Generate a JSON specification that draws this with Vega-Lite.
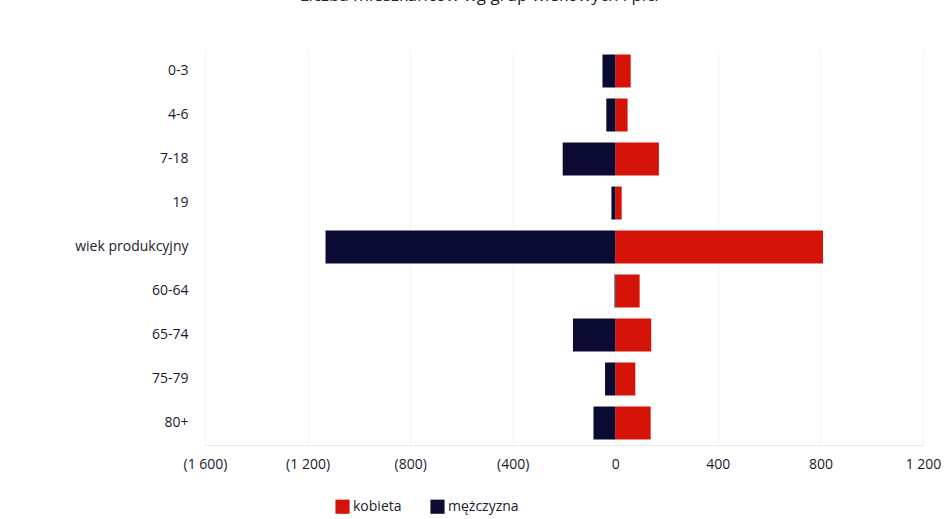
{
  "$schema": "https://vega.github.io/schema/vega-lite/v6.json",
  "autosize": {"type": "none"},
  "width": 718,
  "height": 396,
  "padding": {"left": 205, "top": 49, "right": 22, "bottom": 74},
  "background": "white",
  "title": {"text": "Liczba mieszkańców wg grup wiekowych i płci", "fontSize": 17, "font": "Open Sans", "fontWeight": "normal", "color": "#222", "offset": 44, "anchor": "start", "dx": 225},
  "data": {"values": [
    {"grupa": "0-3", "plec": "kobieta", "liczba": 60},
    {"grupa": "0-3", "plec": "mężczyzna", "liczba": -50},
    {"grupa": "4-6", "plec": "kobieta", "liczba": 48},
    {"grupa": "4-6", "plec": "mężczyzna", "liczba": -35},
    {"grupa": "7-18", "plec": "kobieta", "liczba": 170},
    {"grupa": "7-18", "plec": "mężczyzna", "liczba": -205},
    {"grupa": "19", "plec": "kobieta", "liczba": 25},
    {"grupa": "19", "plec": "mężczyzna", "liczba": -15},
    {"grupa": "wiek produkcyjny", "plec": "kobieta", "liczba": 810},
    {"grupa": "wiek produkcyjny", "plec": "mężczyzna", "liczba": -1130},
    {"grupa": "60-64", "plec": "kobieta", "liczba": 95},
    {"grupa": "60-64", "plec": "mężczyzna", "liczba": -3},
    {"grupa": "65-74", "plec": "kobieta", "liczba": 140},
    {"grupa": "65-74", "plec": "mężczyzna", "liczba": -165},
    {"grupa": "75-79", "plec": "kobieta", "liczba": 78},
    {"grupa": "75-79", "plec": "mężczyzna", "liczba": -40},
    {"grupa": "80+", "plec": "kobieta", "liczba": 138},
    {"grupa": "80+", "plec": "mężczyzna", "liczba": -85}
  ]},
  "mark": {"type": "bar"},
  "encoding": {
    "y": {
      "field": "grupa", "type": "nominal",
      "sort": ["0-3", "4-6", "7-18", "19", "wiek produkcyjny", "60-64", "65-74", "75-79", "80+"],
      "scale": {"paddingInner": 0.25, "paddingOuter": 0.125},
      "axis": {"title": null, "domain": false, "ticks": false, "labelPadding": 17, "labelFontSize": 14, "labelFont": "Open Sans", "labelColor": "#1a1a2e", "grid": false}
    },
    "x": {
      "field": "liczba", "type": "quantitative", "stack": null,
      "scale": {"domain": [-1600, 1200], "nice": false},
      "axis": {
        "title": null,
        "values": [-1600, -1200, -800, -400, 0, 400, 800, 1200],
        "labelExpr": "datum.value < 0 ? '(' + replace(format(-datum.value, ','), ',', ' ') + ')' : replace(format(datum.value, ','), ',', ' ')",
        "labelFontSize": 14, "labelFont": "Open Sans", "labelColor": "#1a1a2e",
        "labelPadding": 12, "ticks": false,
        "domain": true, "domainColor": "#e8e8e8",
        "grid": true, "gridColor": "#f5f5f5",
        "labelFlush": false
      }
    },
    "color": {
      "field": "plec", "type": "nominal",
      "scale": {"domain": ["kobieta", "mężczyzna"], "range": ["#d41208", "#0a0a33"]},
      "legend": {"title": null, "orient": "none", "legendX": 130, "legendY": 450, "direction": "horizontal", "symbolType": "square", "symbolSize": 200, "labelFontSize": 14, "labelFont": "Open Sans", "labelColor": "#1a1a2e", "labelOffset": 3, "columnPadding": 28, "symbolStrokeWidth": 0}
    }
  },
  "config": {"view": {"stroke": null}}
}
